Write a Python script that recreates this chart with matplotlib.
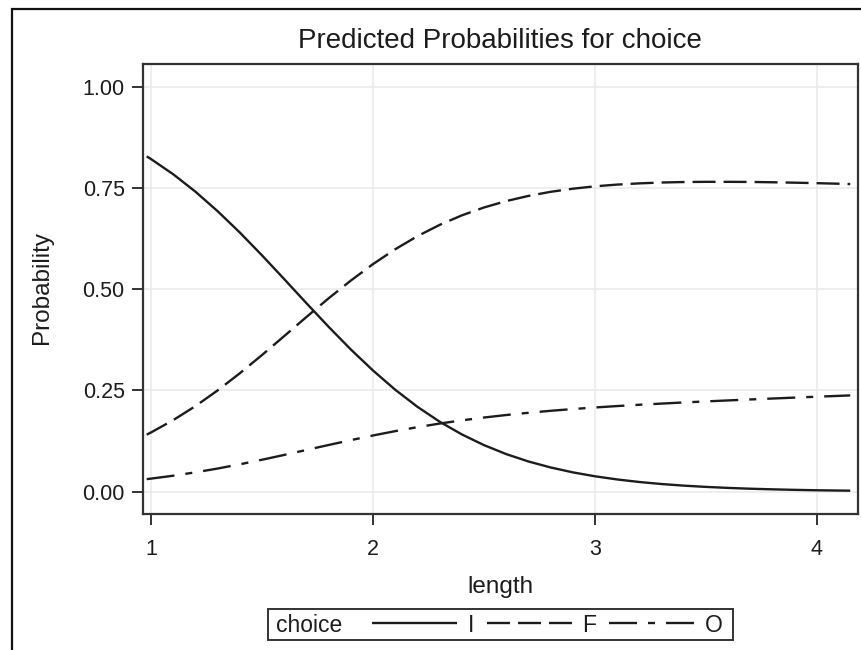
import matplotlib
matplotlib.use("Agg")
import matplotlib.pyplot as plt
from matplotlib.patches import Rectangle

plt.rcParams['font.family'] = ['Liberation Sans', 'DejaVu Sans']

# Predicted probabilities for each choice category along length
length = [0.98, 1.0, 1.1, 1.2, 1.3, 1.4, 1.5, 1.6, 1.7, 1.8, 1.9, 2.0,
          2.1, 2.2, 2.3, 2.4, 2.5, 2.6, 2.7, 2.8, 2.9, 3.0, 3.1, 3.2,
          3.3, 3.4, 3.5, 3.6, 3.7, 3.8, 3.9, 4.0, 4.1, 4.15]
prob_I = [0.8280, 0.8211, 0.7836, 0.7406, 0.6924, 0.6397, 0.5833, 0.5247,
          0.4653, 0.4070, 0.3511, 0.2991, 0.2517, 0.2096, 0.1729, 0.1415,
          0.1150, 0.0929, 0.0747, 0.0599, 0.0478, 0.0381, 0.0303, 0.0240,
          0.0190, 0.0150, 0.0119, 0.0094, 0.0074, 0.0059, 0.0046, 0.0036,
          0.0029, 0.0026]
prob_F = [0.1409, 0.1465, 0.1769, 0.2115, 0.2503, 0.2926, 0.3377, 0.3844,
          0.4315, 0.4776, 0.5214, 0.5621, 0.5987, 0.6310, 0.6588, 0.6823,
          0.7018, 0.7176, 0.7303, 0.7404, 0.7481, 0.7540, 0.7583, 0.7613,
          0.7634, 0.7646, 0.7651, 0.7651, 0.7648, 0.7640, 0.7630, 0.7618,
          0.7604, 0.7596]
prob_O = [0.0311, 0.0324, 0.0396, 0.0479, 0.0573, 0.0677, 0.0790, 0.0909,
          0.1032, 0.1154, 0.1274, 0.1389, 0.1496, 0.1594, 0.1683, 0.1762,
          0.1832, 0.1894, 0.1949, 0.1998, 0.2041, 0.2080, 0.2115, 0.2147,
          0.2176, 0.2204, 0.2230, 0.2254, 0.2278, 0.2301, 0.2324, 0.2346,
          0.2367, 0.2378]

categories = ['I', 'F', 'O']
x_ticks = [1, 2, 3, 4]
y_ticks = [0.0, 0.25, 0.5, 0.75, 1.0]
y_tick_labels = ['0.00', '0.25', '0.50', '0.75', '1.00']

W, H = 861, 650
fig = plt.figure(figsize=(W / 100, H / 100), dpi=100)
ax = fig.add_axes([142.7 / W, 1 - 514 / H, (858 - 142.7) / W, (514 - 64) / H])

ink = '#1c1c1c'
frame = '#333333'
lw = 1.7
px = 72 / 100 / lw  # pixels -> dash units
styles = [
    '-',
    (0, (23 * px, 8 * px)),
    (0, (28 * px, 11 * px, 7 * px, 11 * px)),
]

series = [prob_I, prob_F, prob_O]
handles = []
for vals, ls, name in zip(series, styles, categories):
    h, = ax.plot(length, vals, color=ink, lw=lw, linestyle=ls, label=name,
                 solid_capstyle='butt', dash_capstyle='butt')
    handles.append(h)

ax.set_xlim(0.962, 4.185)
ax.set_ylim(-0.055, 1.056)
ax.set_xticks(x_ticks)
ax.set_yticks(y_ticks)
ax.set_yticklabels(y_tick_labels)
ax.grid(True, color='#ebebeb', lw=1.2)
ax.set_axisbelow(True)
for s in ax.spines.values():
    s.set_color(frame)
    s.set_linewidth(1.6)
ax.tick_params(axis='both', colors=frame, length=8, width=1.4,
               labelcolor=ink, labelsize=15.5)
ax.tick_params(axis='x', pad=10)
ax.tick_params(axis='y', pad=5)

fig.text(500 / W, 1 - 41 / H, 'Predicted Probabilities for choice',
         ha='center', va='center', fontsize=20, color=ink)
fig.text(500 / W, 1 - 587 / H, 'length', ha='center', va='center',
         fontsize=17.5, color=ink)
fig.text(41.7 / W, 1 - 287 / H, 'Probability', ha='center', va='center',
         rotation=90, fontsize=17.5, color=ink)

# Legend: framed strip with the group name followed by the line keys
fig.patches.append(Rectangle((268 / W, 1 - 640 / H), (733 - 268) / W, 31 / H,
                             transform=fig.transFigure, fill=False,
                             edgecolor=frame, lw=1.4))
fig.text(276 / W, 1 - 625 / H, 'choice', ha='left', va='center',
         fontsize=16.5, color=ink)
fs_px = 16.5 * 100 / 72
leg = fig.legend(handles=handles, labels=categories, ncol=3, frameon=False,
                 loc='center left', bbox_to_anchor=(372 / W, 1 - 625 / H),
                 borderpad=0, borderaxespad=0, fontsize=16.5,
                 handlelength=85 / fs_px, handletextpad=10.5 / fs_px,
                 columnspacing=13 / fs_px)
for t in leg.get_texts():
    t.set_color(ink)

# Outer border of the graph area
fig.patches.append(Rectangle((12 / W, -0.05), 1.0, 1 - 9 / H + 0.05,
                             transform=fig.transFigure, fill=False,
                             edgecolor='#111111', lw=1.6))

fig.savefig('out.png', dpi=100)
